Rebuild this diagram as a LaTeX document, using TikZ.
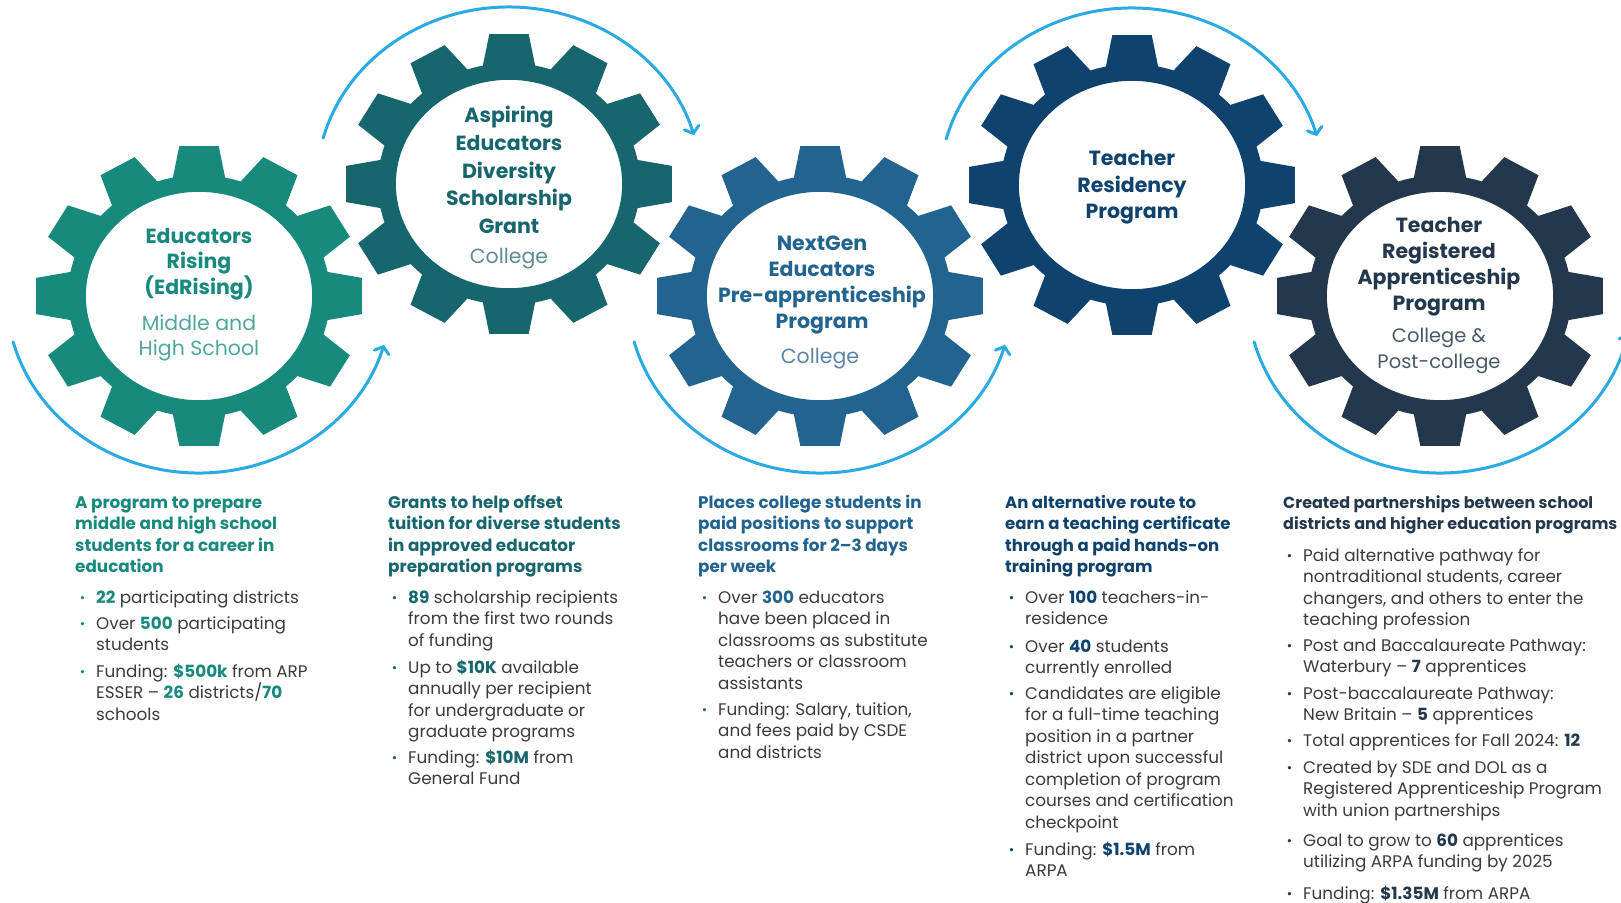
\documentclass[tikz,border=0pt]{standalone}
\usepackage{fontspec}
\setmainfont{Poppins}
\usetikzlibrary{arrows.meta}

% palette
\definecolor{gA}{HTML}{17897D}
\definecolor{gB}{HTML}{17666E}
\definecolor{gC}{HTML}{22648F}
\definecolor{gD}{HTML}{0F426D}
\definecolor{gE}{HTML}{23384C}
\definecolor{sA}{HTML}{4FA69C}
\definecolor{sB}{HTML}{5F8A90}
\definecolor{sC}{HTML}{5A86A8}
\definecolor{sE}{HTML}{4A5866}
\definecolor{flow}{HTML}{2AAAE2}
\definecolor{bodytext}{HTML}{3A3A3A}
\colorlet{hlcol}{gA}

% highlighted figure and list bullet in the current column colour
\newcommand{\hl}[1]{\textbf{\textcolor{hlcol}{#1}}}
\newcommand{\bul}{\llap{\raisebox{0.8pt}{\textcolor{hlcol}{\fontsize{13}{13}\selectfont\textbullet}}\hspace{11pt}}}

% a twelve-tooth gear with a round hole
\newcommand{\drawgear}[2]{%
  \begin{scope}[shift={(#1)}, xscale=164, yscale=151]
    \fill[#2, even odd rule] (-11.5:0.8)
      \foreach \k in {0,...,11}{
        -- ({\k*30-11.5}:0.8) -- ({\k*30-6.9}:1) -- ({\k*30+6.9}:1)
        -- ({\k*30+11.5}:0.8)
        arc[start angle={\k*30+11.5}, end angle={\k*30+18.5}, radius=0.8]
      } -- cycle
      (0,0) circle[radius=0.69];
  \end{scope}}

% curved arrow around a gear
\newcommand{\flowarc}[3]{%
  \begin{scope}[shift={(#1)}, xscale=1.087]
    \draw[flowline] (#2:177) arc[start angle=#2, end angle=#3, radius=177];
  \end{scope}}

\tikzset{
  flowline/.style={flow, line width=3pt, line cap=round,
    -{Straight Barb[length=6pt, width=15pt, line cap=round]}},
  geartitle/.style={font=\bfseries\fontsize{20.5}{26}\selectfont, align=center, inner sep=0pt},
  gearsub/.style={font=\fontsize{20.5}{26}\selectfont, align=center, inner sep=0pt},
  colhead/.style={font=\bfseries\fontsize{16.8}{21.5}\selectfont, align=left, inner sep=0pt, anchor=base west},
  colitem/.style={font=\fontsize{16.8}{21.5}\selectfont, text=bodytext, align=left, inner sep=0pt, anchor=base west},
}

\begin{document}
\begin{tikzpicture}[x=1pt, y=1pt]
\useasboundingbox (0,0) rectangle (1621,-902);

% gear centres
\coordinate (c1) at (199,-296);
\coordinate (c2) at (509,-184);
\coordinate (c3) at (820,-296);
\coordinate (c4) at (1132,-185);
\coordinate (c5) at (1440,-296);

\drawgear{c1}{gA}
\drawgear{c2}{gB}
\drawgear{c3}{gC}
\drawgear{c4}{gD}
\drawgear{c5}{gE}

\flowarc{c1}{195}{344}
\flowarc{c2}{165}{16}
\flowarc{c3}{195}{344}
\flowarc{c4}{165}{16}
\flowarc{c5}{195}{348}

% gear labels
\node[geartitle, text=gA, font=\bfseries\fontsize{20.5}{25.5}\selectfont] (t1) at (199,-264) {Educators\\Rising\\(EdRising)};
\node[gearsub, text=sA, font=\fontsize{20.5}{25.5}\selectfont] (s1) at (199,-338) {Middle and\\High School};

\node[geartitle, text=gB, font=\bfseries\fontsize{20.5}{27.8}\selectfont] (t2) at (509,-170) {Aspiring\\Educators\\Diversity\\Scholarship\\Grant};
\node[gearsub, text=sB] (s2) at (509,-259) {College};

\node[geartitle, text=gC] (t3) at (822,-285) {NextGen\\Educators\\Pre-apprenticeship\\Program};
\node[gearsub, text=sC] (s3) at (820,-359) {College};

\node[geartitle, text=gD, font=\bfseries\fontsize{20.5}{26.5}\selectfont] (t4) at (1132,-187.5) {Teacher\\Residency\\Program};

\node[geartitle, text=gE] (t5) at (1439,-267) {Teacher\\Registered\\Apprenticeship\\Program};
\node[gearsub, text=sE, font=\fontsize{19.5}{26}\selectfont] (s5) at (1439,-351) {College \&\\Post-college};

% column 1 (base anchor = last line)
\colorlet{hlcol}{gA}
\node[colhead, text=gA] (h1) at (75,-572.5) {A program to prepare\\middle and high school\\students for a career in\\education};
\node[colitem] (a1) at (96,-603) {\bul\hl{22} participating districts};
\node[colitem] (a2) at (96,-650.5) {\bul Over \hl{500} participating\\students};
\node[colitem] (a3) at (96,-720) {\bul Funding: \hl{\$500k} from ARP\\ESSER – \hl{26} districts/\hl{70}\\schools};

% column 2
\colorlet{hlcol}{gB}
\node[colhead, text=gB] (h2) at (388,-572.5) {Grants to help offset\\tuition for diverse students\\in approved educator\\preparation programs};
\node[colitem] (b1) at (408,-646) {\bul\hl{89} scholarship recipients\\from the first two rounds\\of funding};
\node[colitem] (b2) at (408,-737.5) {\bul Up to \hl{\$10K} available\\annually per recipient\\for undergraduate or\\graduate programs};
\node[colitem] (b3) at (408,-784.5) {\bul Funding: \hl{\$10M} from\\General Fund};

% column 3
\colorlet{hlcol}{gC}
\node[colhead, text=gC] (h3) at (698,-572.5) {Places college students in\\paid positions to support\\classrooms for 2–3 days\\per week};
\node[colitem] (d1) at (718,-689) {\bul Over \hl{300} educators\\have been placed in\\classrooms as substitute\\teachers or classroom\\assistants};
\node[colitem] (d2) at (718,-758) {\bul Funding: Salary, tuition,\\and fees paid by CSDE\\and districts};

% column 4
\colorlet{hlcol}{gD}
\node[colhead, text=gD, font=\bfseries\fontsize{16.5}{21.5}\selectfont] (h4) at (1005,-572.5) {An alternative route to\\earn a teaching certificate\\through a paid hands-on\\training program};
\node[colitem] (e1) at (1025,-624.5) {\bul Over \hl{100} teachers-in-\\residence};
\node[colitem] (e2) at (1025,-673.5) {\bul Over \hl{40} students\\currently enrolled};
\node[colitem] (e3) at (1025,-828) {\bul Candidates are eligible\\for a full-time teaching\\position in a partner\\district upon successful\\completion of program\\courses and certification\\checkpoint};
\node[colitem] (e4) at (1025,-876.5) {\bul Funding: \hl{\$1.5M} from\\ARPA};

% column 5
\colorlet{hlcol}{gE}
\node[colhead, text=gE, font=\bfseries\fontsize{16}{21.5}\selectfont] (h5) at (1283,-529.5) {Created partnerships between school\\districts and higher education programs};
\node[colitem] (f1) at (1303,-625.5) {\bul Paid alternative pathway for\\nontraditional students, career\\changers, and others to enter the\\teaching profession};
\node[colitem] (f2) at (1303,-672.5) {\bul Post and Baccalaureate Pathway:\\Waterbury – \hl{7} apprentices};
\node[colitem] (f3) at (1303,-720.5) {\bul Post-baccalaureate Pathway:\\New Britain – \hl{5} apprentices};
\node[colitem] (f4) at (1303,-746) {\bul Total apprentices for Fall 2024: \hl{12}};
\node[colitem] (f5) at (1303,-816) {\bul Created by SDE and DOL as a\\Registered Apprenticeship Program\\with union partnerships};
\node[colitem] (f6) at (1303,-867.5) {\bul Goal to grow to \hl{60} apprentices\\utilizing ARPA funding by 2025};
\node[colitem] (f7) at (1303,-899) {\bul Funding: \hl{\$1.35M} from ARPA};
\end{tikzpicture}
\end{document}
